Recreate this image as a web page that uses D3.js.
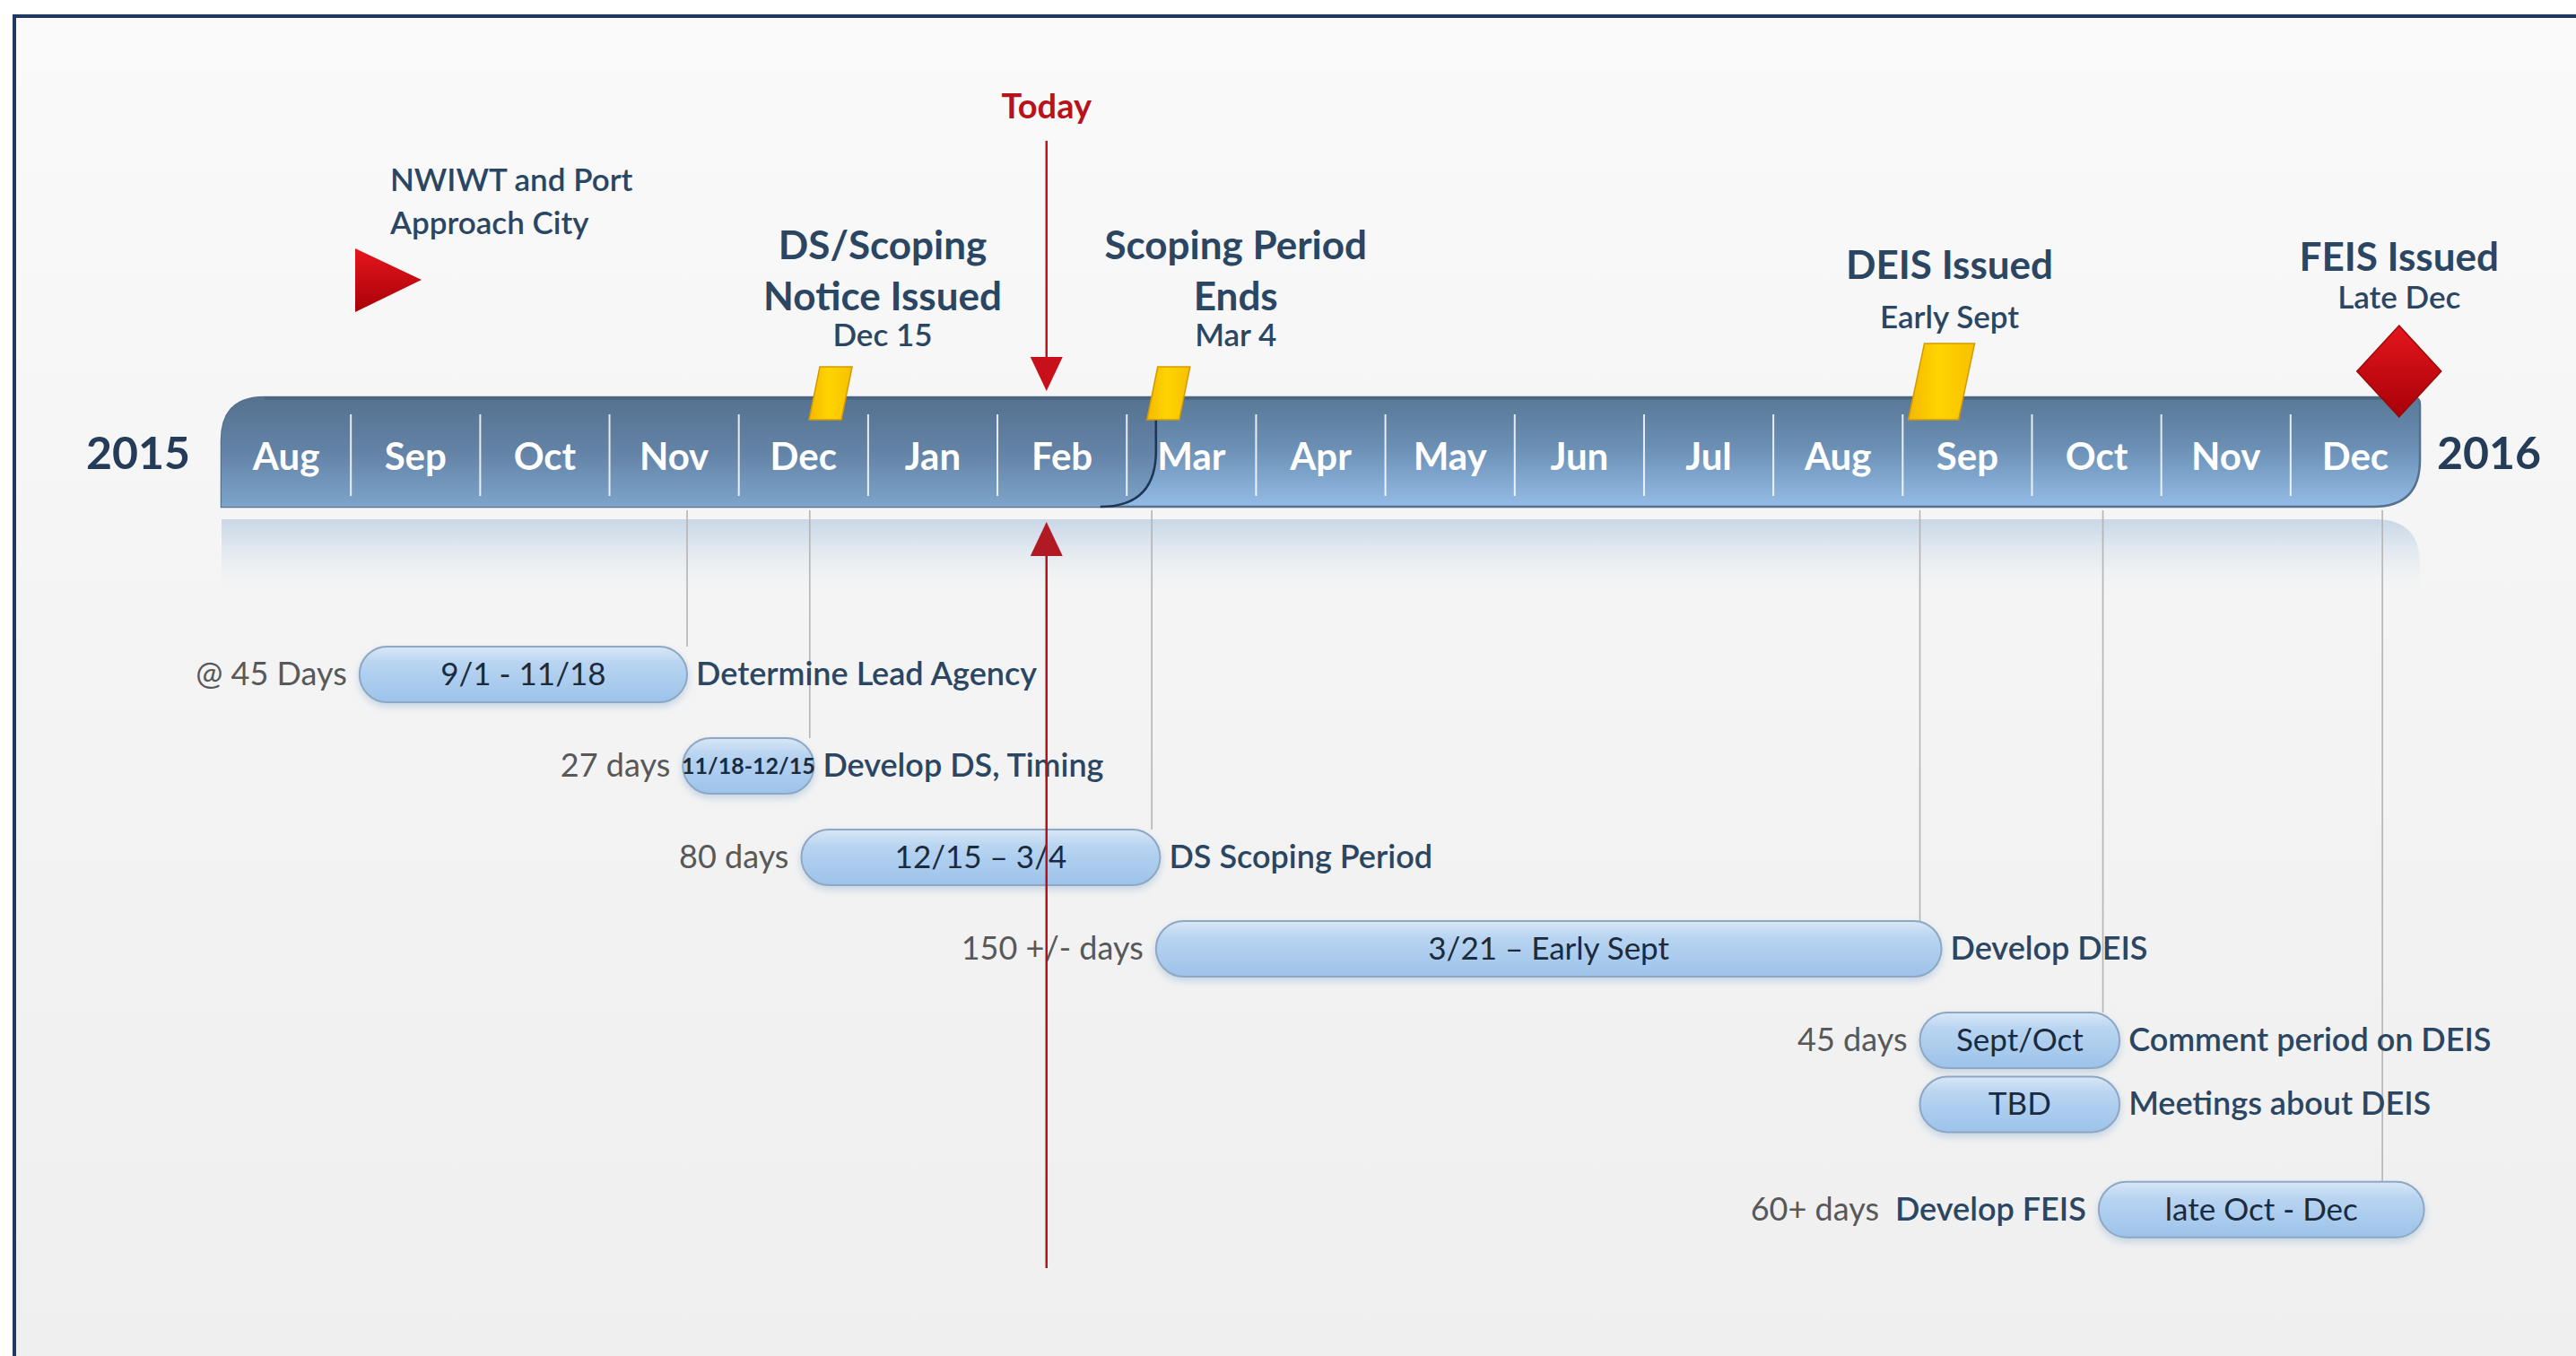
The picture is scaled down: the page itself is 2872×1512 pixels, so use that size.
<!DOCTYPE html>
<html>
<head>
<meta charset="utf-8">
<script src="https://cdn.jsdelivr.net/npm/d3@7"></script>
<style>
  html, body { margin: 0; padding: 0; background: #fff; }
  svg { display: block; font-family: Lato, "Open Sans", sans-serif; }
</style>
</head>
<body>
<div id="chart"></div>
<script>
// ---- data ----
var monthLabels = ["Aug", "Sep", "Oct", "Nov", "Dec", "Jan", "Feb", "Mar", "Apr", "May", "Jun", "Jul", "Aug", "Sep", "Oct", "Nov", "Dec"];
var yearLabels = ["2015", "2016"];
var todayDate = "2016-02-12";
var elapsedEnd = "2016-03-08";

var startMarkerDate = "2015-09-02";
var startMarkerText = ["NWIWT and Port", "Approach City"];

var milestoneDates = ["2015-12-23", "2016-03-11", "2016-09-10", "2016-12-27"];
var milestoneTitles = [["DS/Scoping", "Notice Issued"], ["Scoping Period", "Ends"], ["DEIS Issued"], ["FEIS Issued"]];
var milestoneNotes = ["Dec 15", "Mar 4", "Early Sept", "Late Dec"];
var milestoneKinds = ["flag", "flag", "bigflag", "diamond"];

var taskStarts = ["2015-09-03", "2015-11-18", "2015-12-16", "2016-03-08", "2016-09-05", "2016-09-05", "2016-10-17"];
var taskEnds = ["2015-11-19", "2015-12-19", "2016-03-09", "2016-09-10", "2016-10-22", "2016-10-22", "2017-01-02"];
var taskRanges = ["9/1 - 11/18", "11/18-12/15", "12/15 \u2013 3/4", "3/21 \u2013 Early Sept", "Sept/Oct", "TBD", "late Oct - Dec"];
var taskDurations = ["@ 45 Days", "27 days", "80 days", "150 +/- days", "45 days", "", "60+ days"];
var taskNames = ["Determine Lead Agency", "Develop DS, Timing", "DS Scoping Period", "Develop DEIS", "Comment period on DEIS", "Meetings about DEIS", ""];
var taskNamesBefore = ["", "", "", "", "", "", "Develop FEIS"];

var guideDates = ["2015-11-19", "2015-12-18", "2016-03-07", "2016-09-05", "2016-10-18", "2016-12-23"];
var guideRows = [0, 1, 2, 3, 4, 6];

// ---- layout ----
var svgWidth = 2872;
var svgHeight = 1512;
var barLeft = 247, barRight = 2698, barTop = 443, barBottom = 565;
var rowSlots = [0, 1, 2, 3, 4, 4.7, 5.85];
var pillH = 62;

// label offsets of the milestone captions (the captions are not centred on their markers)
var milestoneDx = [58, 75, 9, 0];
var milestoneTitleY = [289, 289, 311, 302];
var milestoneNoteY = [386, 386, 366, 344];

var parse = d3.timeParse("%Y-%m-%d");
var dark = "#2b4663";

// months are drawn with equal width, so use a piecewise time scale
var monthTicks = d3.timeMonth.range(new Date(2015, 7, 1), new Date(2017, 0, 2));
var monthW = (barRight - barLeft) / (monthTicks.length - 1);
var x = d3.scaleTime()
  .domain(monthTicks)
  .range(monthTicks.map((d, i) => barLeft + i * monthW));
var xd = s => x(parse(s));

var y = d3.scaleLinear().domain([0, 1]).range([752, 854]);

var svg = d3.select("#chart").append("svg")
  .attr("width", svgWidth)
  .attr("height", svgHeight);

var defs = svg.append("defs");

function vGrad(id, stops, horizontal) {
  var g = defs.append("linearGradient").attr("id", id)
    .attr("x1", 0).attr("y1", 0)
    .attr("x2", horizontal ? 1 : 0).attr("y2", horizontal ? 0 : 1);
  stops.forEach(s => g.append("stop").attr("offset", s[0]).attr("stop-color", s[1]).attr("stop-opacity", s[2] == null ? 1 : s[2]));
}
vGrad("bgGrad", [[0, "#fafafa"], [0.45, "#f4f4f4"], [1, "#efefef"]]);
vGrad("barGrad", [[0, "#587896"], [0.45, "#6b8fb4"], [1, "#93bce6"]]);
vGrad("elapsedGrad", [[0, "#55718f"], [0.5, "#6383a6"], [1, "#7ea4cb"]]);
vGrad("reflGrad", [[0, "#c9d7e6"], [0.35, "#dfe7ef"], [1, "#f1f1f1", 0]]);
vGrad("pillGrad", [[0, "#d8e7f6"], [0.3, "#b8d4f1"], [1, "#9cc3ea"]]);
vGrad("yellowGrad", [[0, "#f3b800"], [0.45, "#ffd400"], [1, "#f7c000"]], true);
vGrad("redGrad", [[0, "#e5161d"], [1, "#a80008"]]);

var shadow = defs.append("filter").attr("id", "pillShadow")
  .attr("x", "-10%").attr("y", "-30%").attr("width", "120%").attr("height", "170%");
shadow.append("feDropShadow").attr("dx", 0).attr("dy", 4).attr("stdDeviation", 4)
  .attr("flood-color", "#9dbad8").attr("flood-opacity", 0.55);

// frame + background
svg.append("rect")
  .attr("x", 16).attr("y", 18)
  .attr("width", svgWidth + 20).attr("height", svgHeight + 20)
  .attr("fill", "url(#bgGrad)")
  .attr("stroke", "#1f3864")
  .attr("stroke-width", 4);

var chartGroup = svg.append("g");

// reflection under the bar
var rr = 50;
chartGroup.append("path")
  .attr("d", `M${barLeft},${barBottom + 14} L${barRight - rr},${barBottom + 14}
    Q${barRight},${barBottom + 14} ${barRight},${barBottom + 14 + rr} L${barRight},${barBottom + 100}
    L${barLeft},${barBottom + 100} Z`)
  .attr("fill", "url(#reflGrad)");

// guide lines from the bar down to the task bars
guideDates.forEach(function(g, i) {
  chartGroup.append("line")
    .attr("x1", xd(g)).attr("x2", xd(g))
    .attr("y1", barBottom + 4)
    .attr("y2", y(rowSlots[guideRows[i]]) - pillH / 2)
    .attr("stroke", "#b4b4b4")
    .attr("stroke-width", 1.6);
});

// the month bar
var rl = 48, rb = 52, rt = 8;
chartGroup.append("path")
  .attr("d", `M${barLeft},${barBottom} L${barLeft},${barTop + rl}
    Q${barLeft},${barTop} ${barLeft + rl},${barTop}
    L${barRight - rt},${barTop} Q${barRight},${barTop} ${barRight},${barTop + rt}
    L${barRight},${barBottom - rb} Q${barRight},${barBottom} ${barRight - rb},${barBottom} Z`)
  .attr("fill", "url(#barGrad)")
  .attr("stroke", "#55718c")
  .attr("stroke-width", 2.5);

// elapsed part of the bar
var xe = xd(elapsedEnd), re = 62;
chartGroup.append("path")
  .attr("d", `M${barLeft},${barBottom} L${barLeft},${barTop + rl}
    Q${barLeft},${barTop} ${barLeft + rl},${barTop}
    L${xe},${barTop} L${xe},${barBottom - re}
    Q${xe},${barBottom} ${xe - re},${barBottom} Z`)
  .attr("fill", "url(#elapsedGrad)");
chartGroup.append("path")
  .attr("d", `M${xe},${barTop + 24} L${xe},${barBottom - re} Q${xe},${barBottom} ${xe - re},${barBottom}`)
  .attr("fill", "none")
  .attr("stroke", "#1d3656")
  .attr("stroke-width", 2.5);
chartGroup.append("line")
  .attr("x1", barLeft + rl).attr("x2", barRight - rt)
  .attr("y1", barTop + 1).attr("y2", barTop + 1)
  .attr("stroke", "#4a6580").attr("stroke-width", 3);

// month separators and labels
chartGroup.selectAll(".sep")
  .data(monthTicks.slice(1, -1))
  .enter()
  .append("line")
  .attr("x1", d => x(d)).attr("x2", d => x(d))
  .attr("y1", barTop + 19).attr("y2", barBottom - 12)
  .attr("stroke", "#ffffff")
  .attr("stroke-opacity", 0.85)
  .attr("stroke-width", 2);

chartGroup.selectAll(".month")
  .data(monthLabels)
  .enter()
  .append("text")
  .attr("x", (d, i) => barLeft + (i + 0.5) * monthW)
  .attr("y", 524)
  .attr("text-anchor", "middle")
  .attr("font-size", "42px")
  .attr("font-weight", 700)
  .attr("fill", "#ffffff")
  .text(d => d);

// years
chartGroup.append("text")
  .attr("x", barLeft - 35).attr("y", 523)
  .attr("text-anchor", "end")
  .attr("font-size", "50px").attr("font-weight", 700)
  .attr("fill", "#243c57")
  .text(yearLabels[0]);
chartGroup.append("text")
  .attr("x", barRight + 19).attr("y", 523)
  .attr("text-anchor", "start")
  .attr("font-size", "50px").attr("font-weight", 700)
  .attr("fill", "#243c57")
  .text(yearLabels[1]);

// start marker (red triangle)
var sx = xd(startMarkerDate);
chartGroup.append("path")
  .attr("d", `M${sx},277 L${sx + 74},312 L${sx},348 Z`)
  .attr("fill", "url(#redGrad)");
startMarkerText.forEach(function(t, i) {
  chartGroup.append("text")
    .attr("x", sx + 39).attr("y", 213 + i * 48)
    .attr("font-size", "35px").attr("font-weight", 600)
    .attr("fill", dark)
    .text(t);
});

// milestones
milestoneDates.forEach(function(m, i) {
  var cx = xd(m);
  var kind = milestoneKinds[i];
  if (kind === "diamond") {
    chartGroup.append("path")
      .attr("d", `M${cx},363 L${cx + 47},414 L${cx},465 L${cx - 47},414 Z`)
      .attr("fill", "url(#redGrad)")
      .attr("stroke", "#9a0a0a").attr("stroke-width", 1.5);
  } else {
    var w = kind === "bigflag" ? 56 : 36;
    var s = kind === "bigflag" ? 18 : 12;
    var top = kind === "bigflag" ? 383 : 409;
    var bot = 468;
    chartGroup.append("path")
      .attr("d", `M${cx - w / 2 - s / 2},${bot} L${cx + w / 2 - s / 2},${bot}
        L${cx + w / 2 + s / 2},${top} L${cx - w / 2 + s / 2},${top} Z`)
      .attr("fill", "url(#yellowGrad)")
      .attr("stroke", "#d39a00").attr("stroke-width", 1.5);
  }
  var lx = cx + milestoneDx[i];
  milestoneTitles[i].forEach(function(t, j) {
    chartGroup.append("text")
      .attr("x", lx).attr("y", milestoneTitleY[i] + j * 57)
      .attr("text-anchor", "middle")
      .attr("font-size", "44px").attr("font-weight", 700)
      .attr("fill", dark)
      .text(t);
  });
  chartGroup.append("text")
    .attr("x", lx).attr("y", milestoneNoteY[i])
    .attr("text-anchor", "middle")
    .attr("font-size", "35px").attr("font-weight", 600)
    .attr("fill", dark)
    .text(milestoneNotes[i]);
});

// tasks
var tasks = taskStarts.map((s, i) => ({
  x0: xd(s), x1: xd(taskEnds[i]), cy: y(rowSlots[i]),
  range: taskRanges[i], dur: taskDurations[i], name: taskNames[i], before: taskNamesBefore[i]
}));

var taskGroup = chartGroup.selectAll(".task")
  .data(tasks)
  .enter()
  .append("g");

taskGroup.append("rect")
  .attr("x", d => d.x0)
  .attr("y", d => d.cy - pillH / 2)
  .attr("width", d => d.x1 - d.x0)
  .attr("height", pillH)
  .attr("rx", pillH / 2)
  .attr("fill", "url(#pillGrad)")
  .attr("stroke", "#8ea8c3")
  .attr("stroke-width", 2)
  .attr("filter", "url(#pillShadow)");

taskGroup.append("text")
  .attr("x", d => (d.x0 + d.x1) / 2)
  .attr("y", d => d.cy + (d.range.length > 10 && d.x1 - d.x0 < 200 ? 9 : 12))
  .attr("text-anchor", "middle")
  .attr("font-size", d => d.x1 - d.x0 < 200 && d.range.length > 10 ? "25px" : "35px")
  .attr("font-weight", d => d.x1 - d.x0 < 200 && d.range.length > 10 ? 700 : 400)
  .attr("fill", "#1b2b3d")
  .text(d => d.range);

taskGroup.append("text")
  .attr("x", d => d.x1 + 10)
  .attr("y", d => d.cy + 12)
  .attr("font-size", "36px").attr("font-weight", 600)
  .attr("fill", dark)
  .text(d => d.name);

var leftText = taskGroup.append("text")
  .attr("x", d => d.x0 - 14)
  .attr("y", d => d.cy + 12)
  .attr("text-anchor", "end")
  .attr("font-size", "36px");
leftText.append("tspan")
  .attr("fill", "#585858")
  .text(d => d.dur);
leftText.append("tspan")
  .attr("fill", dark).attr("font-weight", 600)
  .text(d => d.before ? "\u00a0 " + d.before : "");

// today marker
var tx = xd(todayDate);
chartGroup.append("text")
  .attr("x", tx).attr("y", 132)
  .attr("text-anchor", "middle")
  .attr("font-size", "38px").attr("font-weight", 700)
  .attr("fill", "#b8121b")
  .text("Today");
chartGroup.append("line")
  .attr("x1", tx).attr("x2", tx).attr("y1", 157).attr("y2", 405)
  .attr("stroke", "#c0141b").attr("stroke-width", 2.5);
chartGroup.append("path")
  .attr("d", `M${tx - 18},398 L${tx + 18},398 L${tx},436 Z`)
  .attr("fill", "#c8101a");
chartGroup.append("line")
  .attr("x1", tx).attr("x2", tx).attr("y1", 610).attr("y2", 1414)
  .attr("stroke", "#b3141c").attr("stroke-width", 2.5);
chartGroup.append("path")
  .attr("d", `M${tx - 18},620 L${tx + 18},620 L${tx},582 Z`)
  .attr("fill", "#b01a22");
</script>
</body>
</html>
